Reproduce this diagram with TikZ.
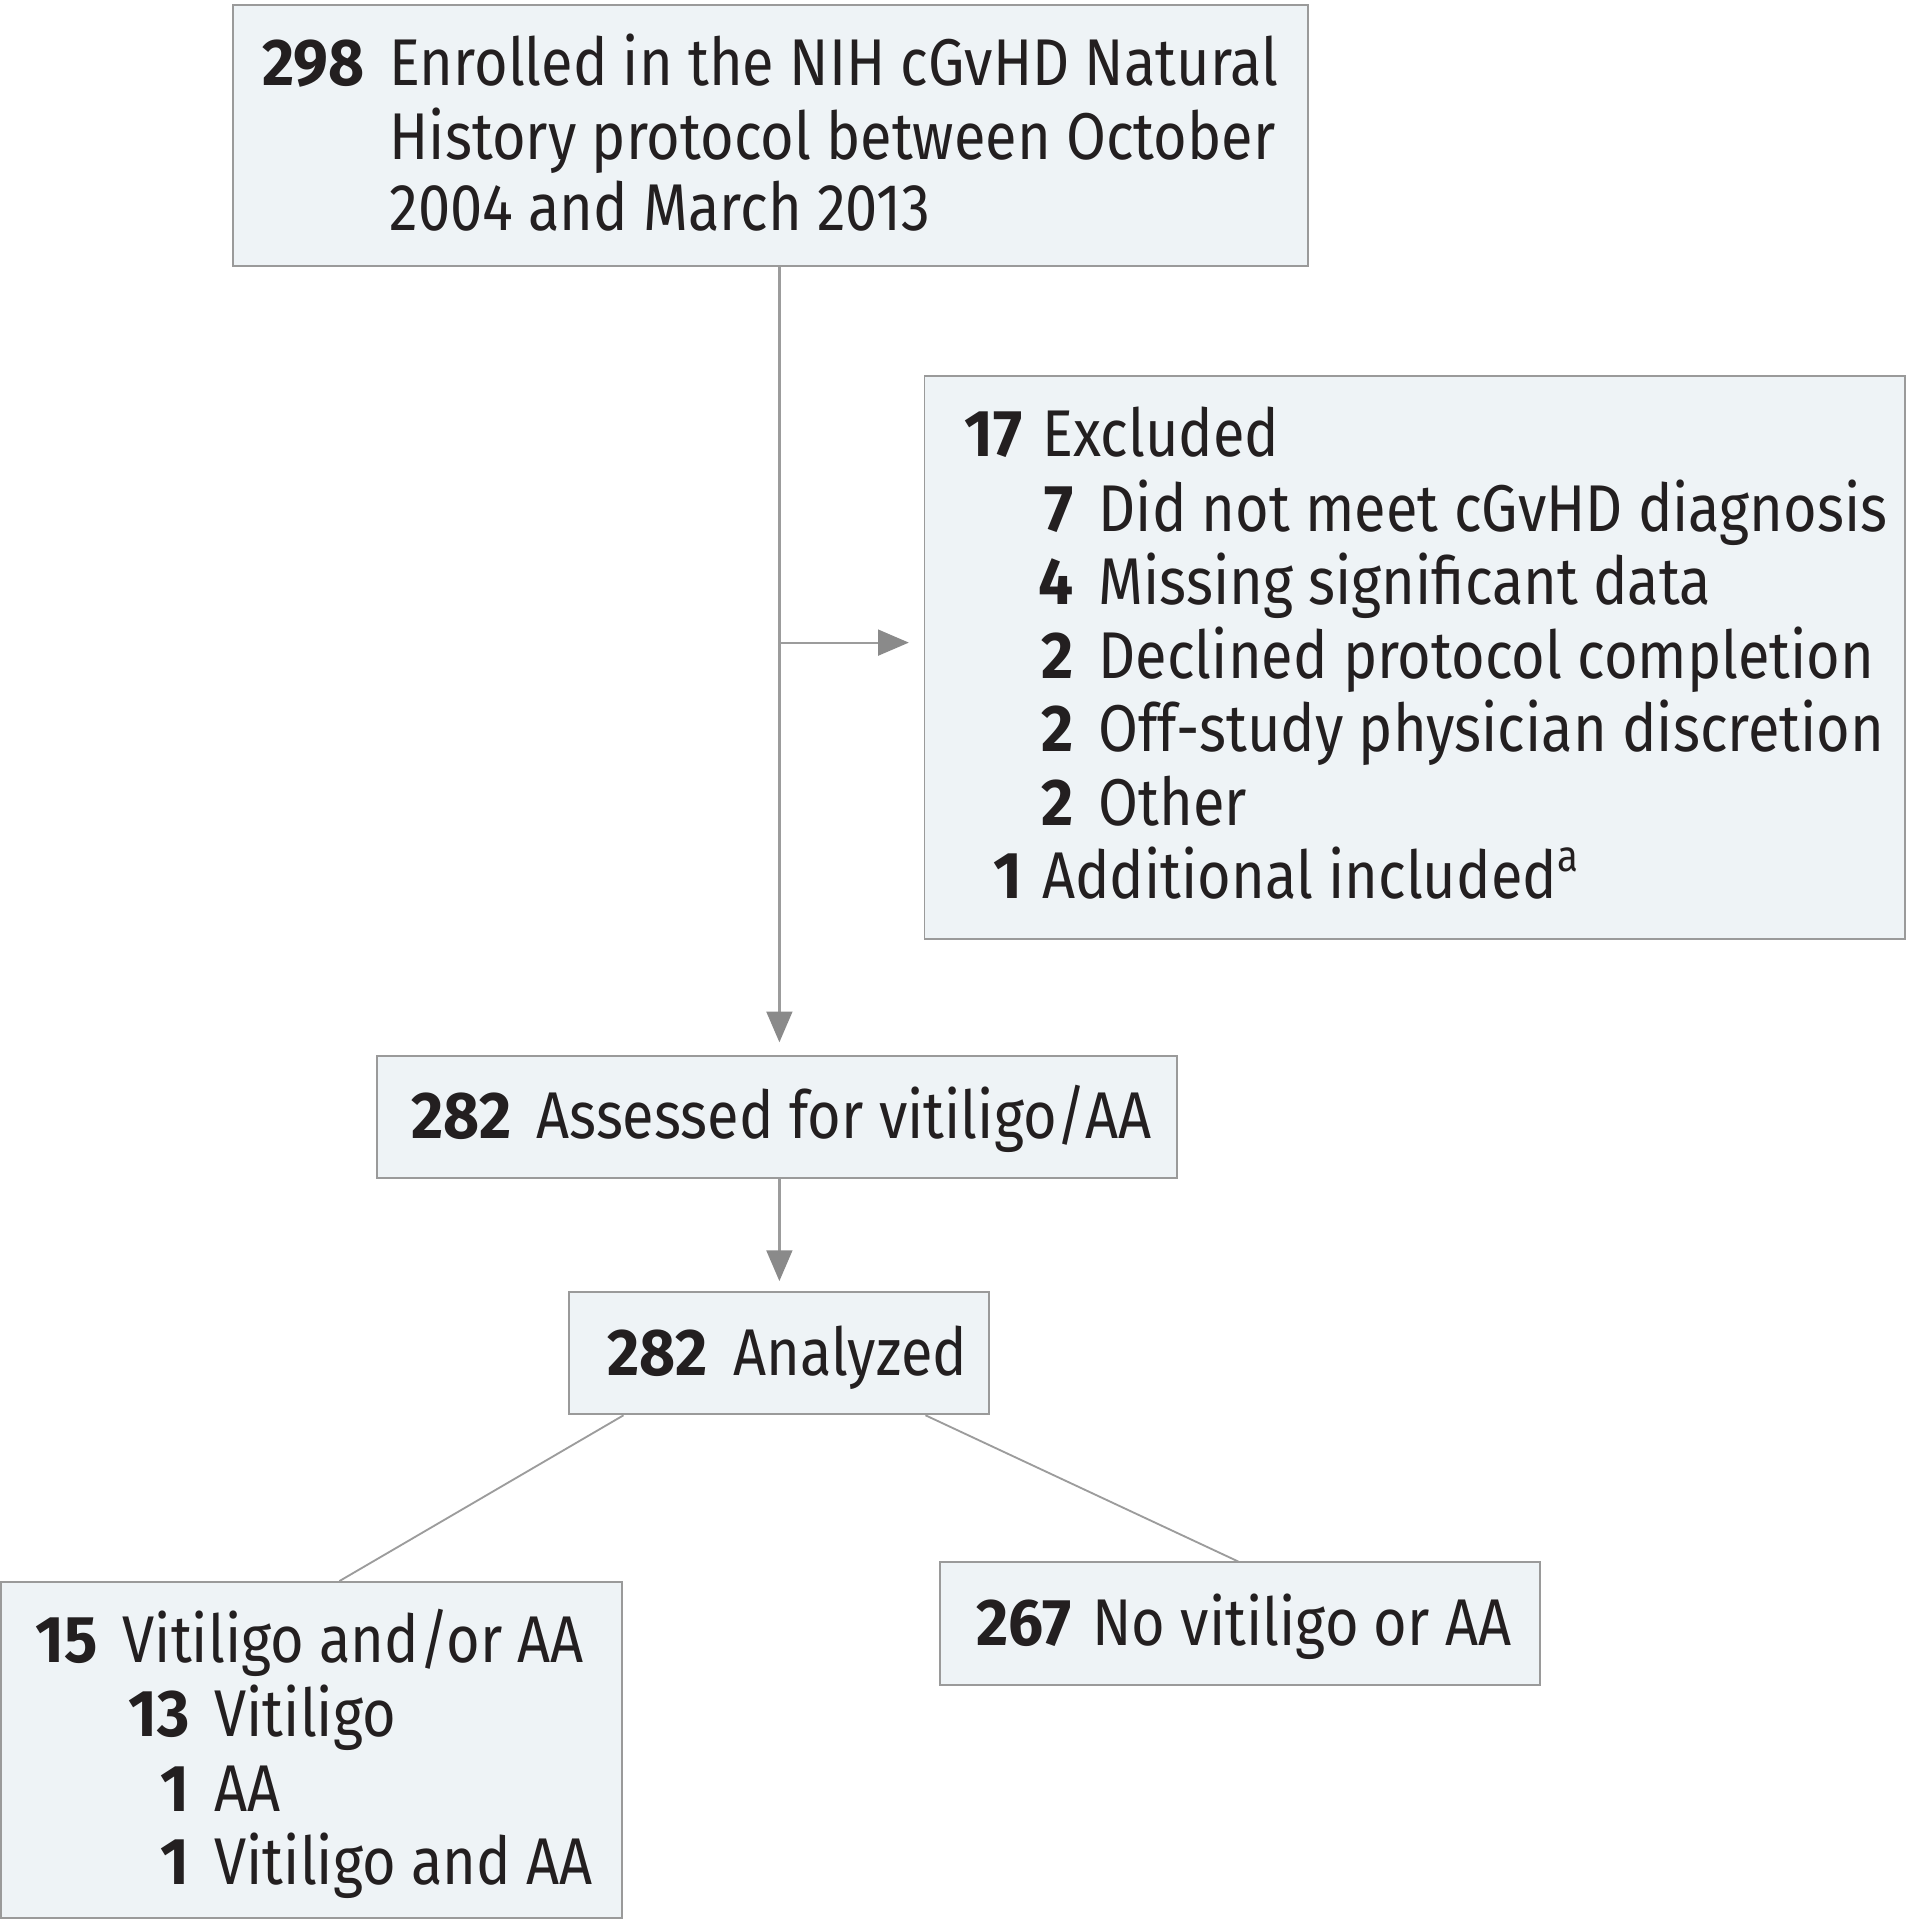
\documentclass[tikz,border=0pt]{standalone}
\usepackage{fontspec}
\setmainfont[FakeStretch=0.873,BoldFeatures={FakeStretch=0.94}]{Fira Sans}
\usetikzlibrary{arrows.meta,calc}
\definecolor{boxfill}{HTML}{EEF3F6}
\definecolor{boxline}{HTML}{9A9A9A}
\definecolor{conline}{HTML}{9C9C9C}
\definecolor{tipcol}{HTML}{8A8A8A}
\definecolor{ink}{HTML}{231F20}
\begin{document}
\begin{tikzpicture}[x=1pt,y=-1pt,
  box/.style={draw=boxline,fill=boxfill,line width=1.6pt,rectangle,inner sep=0pt},
  txt/.style={anchor=base west,inner sep=0pt,text=ink,font=\fontsize{54}{59}\selectfont},
  num/.style={anchor=base east,inner sep=0pt,text=ink,font=\fontsize{54}{59}\selectfont\bfseries},
  conn/.style={draw=conline,line width=1.8pt},
  arr/.style={conn,-{Triangle[length=25pt,width=21pt,fill=tipcol,color=tipcol]}}]
\useasboundingbox[fill=white] (0,0) rectangle (1558,1568);

% boxes
\node[box,minimum width=878pt,minimum height=213pt] (enr) at (629,110.5) {};
\node[box,minimum width=801pt,minimum height=460pt] (exc) at (1155.5,537) {};
\node[box,minimum width=653pt,minimum height=100pt] (asm) at (634.5,912) {};
\node[box,minimum width=343pt,minimum height=100pt] (ana) at (636.5,1105) {};
\node[box,minimum width=507pt,minimum height=274pt] (vit) at (254.5,1429) {};
\node[box,minimum width=490pt,minimum height=100pt] (nov) at (1013,1326) {};

% top box text
\node[num] (n298) at (298,70) {298};
\node[txt] (t1a) at (318,70) {Enrolled in the NIH cGvHD Natural};
\node[txt] (t1b) at (318,130) {History protocol between October};
\node[txt] (t1c) at (318,188) {2004 and March 2013};

% excluded box text
\node[num] (n17) at (835,373) {17};
\node[txt] (e0) at (851,373) {Excluded};
\node[num] (n7) at (877,434) {7};
\node[txt] (e1) at (897,434) {Did not meet cGvHD diagnosis};
\node[num] (n4) at (877,494) {4};
\node[txt] (e2) at (897,494) {Missing significant data};
\node[num] (n2a) at (877,554) {2};
\node[txt] (e3) at (897,554) {Declined protocol completion};
\node[num] (n2b) at (877,614) {2};
\node[txt] (e4) at (897,614) {Off-study physician discretion};
\node[num] (n2c) at (877,674) {2};
\node[txt] (e5) at (897,674) {Other};
\node[num] (n1x) at (835,734) {1};
\node[txt] (e6) at (851,734) {Additional included\raisebox{0.42em}{\fontsize{36}{40}\selectfont a}};

% assessed
\node[num] (n282a) at (418,930) {282};
\node[txt] (a1) at (438,930) {Assessed for vitiligo/AA};

% analyzed
\node[num] (n282b) at (578,1123) {282};
\node[txt] (b1) at (599,1123) {Analyzed};

% vitiligo box
\node[num] (n15) at (80,1358) {15};
\node[txt] (v1) at (100,1358) {Vitiligo and/or AA};
\node[num] (n13) at (155,1418) {13};
\node[txt] (v2) at (175,1418) {Vitiligo};
\node[num] (n1a) at (155,1479) {1};
\node[txt] (v3) at (175,1479) {AA};
\node[num] (n1b) at (155,1539) {1};
\node[txt] (v4) at (175,1539) {Vitiligo and AA};

% no vitiligo
\node[num] (n267) at (875,1344) {267};
\node[txt] (r1) at (892,1344) {No vitiligo or AA};

% connectors
\draw[arr,shorten >=10pt] (enr.south -| ana.north) -- (asm.north -| ana.north);
\coordinate (br) at ($(enr.south -| ana.north)+(0,307)$);
\draw[arr,shorten >=12pt] (br) -- (exc.west |- br);
\draw[arr,shorten >=8pt] (asm.south -| ana.north) -- (ana.north);
\draw[conn,line width=1.5pt] ($(ana.south west)+(45,0)$) -- ($(vit.north west)+(277,0)$);
\draw[conn,line width=1.5pt] ($(ana.south east)+(-53,0)$) -- ($(nov.north west)+(244,0)$);
\end{tikzpicture}
\end{document}
